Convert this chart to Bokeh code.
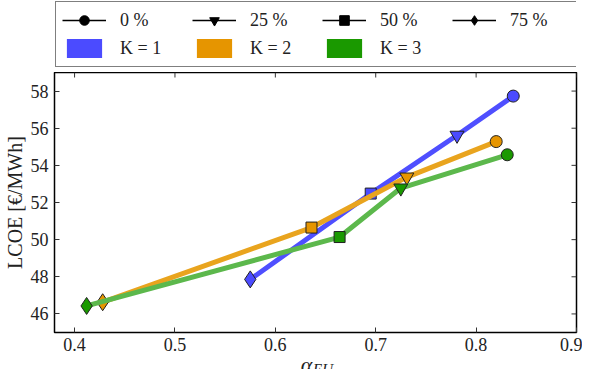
import math
from bokeh.plotting import figure
from bokeh.layouts import column
from bokeh.models import Legend, LegendItem, Label, FixedTicker, Range1d
from bokeh.embed import file_html
from bokeh.resources import INLINE

# ---- data ----
shares = ["0 %", "25 %", "50 %", "75 %"]
markers = ["circle", "inverted_triangle", "square", "diamond"]
marker_sizes = [12, 14, 11, 17]
k_labels = ["K = 1", "K = 2", "K = 3"]
colors = ["#4b4bff", "#e69500", "#1a9900"]
line_colors = ["#4f4fff", "#e9a41e", "#5cb84c"]

alpha_k1 = [0.837, 0.781, 0.695, 0.575]
lcoe_k1 = [57.73, 55.62, 52.48, 47.86]
alpha_k2 = [0.820, 0.731, 0.636, 0.428]
lcoe_k2 = [55.28, 53.37, 50.65, 46.63]
alpha_k3 = [0.831, 0.725, 0.664, 0.412]
lcoe_k3 = [54.57, 52.78, 50.14, 46.43]

x_ticks = [0.4, 0.5, 0.6, 0.7, 0.8, 0.9]
y_ticks = [46, 48, 50, 52, 54, 56, 58]
x_lim = (0.38, 0.9)
y_lim = (45, 59)

FONT = "Liberation Serif"
TXT = "#222222"
LEFT = 49
NAN = float("nan")

# ---------------- legend figure ----------------
lf = figure(width=582, height=72, output_backend="svg", toolbar_location=None,
            x_range=Range1d(0, 1), y_range=Range1d(0, 1),
            x_axis_type=None, y_axis_type=None,
            min_border_left=LEFT - 1, min_border_right=0, min_border_top=0, min_border_bottom=0)
lf.grid.visible = False
lf.outline_line_color = None

items = []
for lab, m in zip(shares, markers):
    lr = lf.line([NAN], [NAN], line_color="black", line_width=1.5)
    sr = lf.scatter([NAN], [NAN], marker=m, fill_color="black", line_color="black")
    items.append(LegendItem(label=lab, renderers=[lr, sr]))
for lab, c in zip(k_labels, colors):
    qr = lf.quad(left=[NAN], right=[NAN], top=[NAN], bottom=[NAN], fill_color=c, line_color=None)
    items.append(LegendItem(label=lab, renderers=[qr]))

legend = Legend(items=items, orientation="horizontal", ncols=4, location="top_left",
                glyph_width=44, glyph_height=24, label_standoff=14, label_width=68,
                spacing=4, padding=6, margin=1,
                border_line_color="black", border_line_width=1.5,
                label_text_font=FONT, label_text_font_size="18px", label_text_color=TXT)
lf.add_layout(legend)

# ---------------- main figure ----------------
p = figure(width=582, height=281, output_backend="svg", toolbar_location=None,
           x_range=Range1d(*x_lim), y_range=Range1d(*y_lim),
           min_border_left=LEFT, min_border_right=6, min_border_top=0, min_border_bottom=0)
p.grid.visible = False
p.outline_line_color = "black"
p.outline_line_width = 1.5

for ax in (p.xaxis[0], p.yaxis[0]):
    ax.axis_line_color = None
    ax.major_tick_in = 5
    ax.major_tick_out = 0
    ax.minor_tick_line_color = None
    ax.major_tick_line_color = "#333333"
    ax.major_label_text_font = FONT
    ax.major_label_text_font_size = "18px"
    ax.major_label_text_color = TXT
p.xaxis[0].ticker = FixedTicker(ticks=x_ticks)
p.yaxis[0].ticker = FixedTicker(ticks=y_ticks)
p.xaxis[0].major_label_standoff = 5
p.yaxis[0].major_label_standoff = 6
p.yaxis[0].axis_label = "LCOE [€/MWh]"
p.yaxis[0].axis_label_text_font = FONT
p.yaxis[0].axis_label_text_font_style = "normal"
p.yaxis[0].axis_label_text_font_size = "20px"
p.yaxis[0].axis_label_text_color = TXT
p.yaxis[0].axis_label_standoff = 2

# inward ticks on the top and right edges (mirroring the tick values)
p.ray(x=x_ticks, y=[y_lim[1]] * len(x_ticks), length=5, length_units="screen",
      angle=-math.pi / 2, line_color="#333333", line_width=1)
p.ray(x=[x_lim[1]] * len(y_ticks), y=y_ticks, length=5, length_units="screen",
      angle=math.pi, line_color="#333333", line_width=1)

series = [(alpha_k1, lcoe_k1), (alpha_k2, lcoe_k2), (alpha_k3, lcoe_k3)]
for (xs, ys), c, lc in zip(series, colors, line_colors):
    p.line(xs, ys, line_color=lc, line_width=5)
    for i, m in enumerate(markers):
        p.scatter([xs[i]], [ys[i]], marker=m, size=marker_sizes[i], fill_color=c,
                  line_color="#222222", line_width=1)

# ---------------- x-axis label figure (alpha_EU as real text) ----------------
bf = figure(width=582, height=16, output_backend="svg", toolbar_location=None,
            x_range=p.x_range, y_range=Range1d(0, 1),
            x_axis_type=None, y_axis_type=None,
            min_border_left=LEFT, min_border_right=6, min_border_top=0, min_border_bottom=0)
bf.grid.visible = False
bf.outline_line_color = None
bf.add_layout(Label(x=0.631, y=0.3, text="α", text_font=FONT, text_font_style="italic",
                    text_font_size="22px", text_align="center", text_baseline="alphabetic",
                    text_color=TXT))
bf.add_layout(Label(x=0.6375, y=0.05, text="EU", text_font=FONT, text_font_style="italic",
                    text_font_size="15px", text_align="left", text_baseline="alphabetic",
                    text_color=TXT))

layout = column(lf, p, bf, spacing=0)
open("out.html", "w").write(file_html(layout, INLINE))
